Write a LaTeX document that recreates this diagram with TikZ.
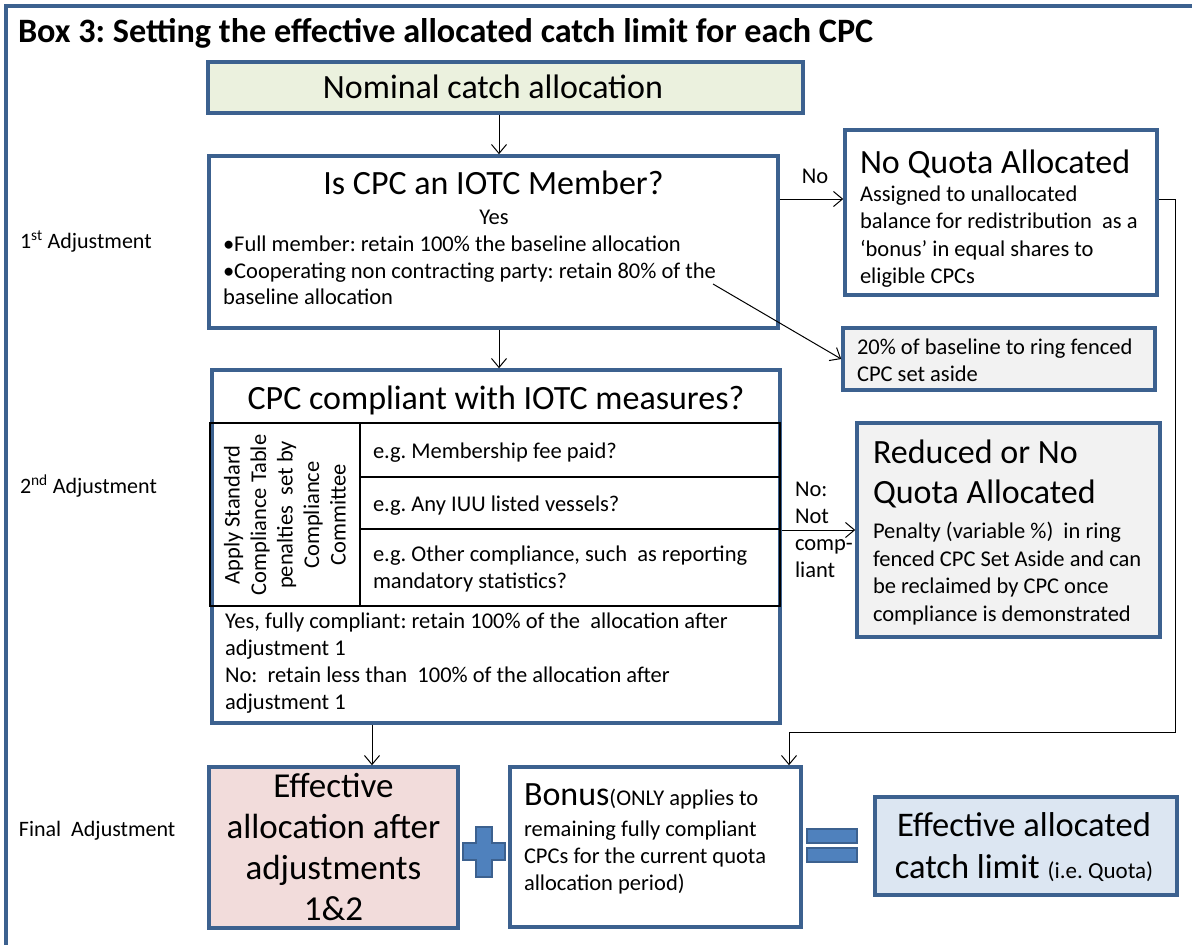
\documentclass[tikz,border=0pt]{standalone}
\usepackage{fontspec}
\setmainfont{Carlito}
\usetikzlibrary{arrows.meta}
\definecolor{boxblue}{RGB}{60,97,143}
\definecolor{nomfill}{HTML}{EBF1DE}
\definecolor{greyfill}{HTML}{F2F2F2}
\definecolor{pinkfill}{HTML}{F2DCDB}
\definecolor{limfill}{HTML}{DCE6F2}
\definecolor{signfill}{HTML}{4F81BD}
\newcommand\fBig{\fontsize{34}{40}\selectfont}
\newcommand\fBody{\fontsize{22.5}{27}\selectfont}
\newcommand\fLab{\fontsize{22}{25}\selectfont}
\frenchspacing
\tikzset{
  bx/.style={draw=boxblue, line width=3.5pt, inner sep=0pt},
  frame/.style={draw=boxblue, line width=4pt},
  arr/.style={draw=black, line width=1pt, -{Straight Barb[length=9pt,width=15pt]}},
  txt/.style={inner sep=0pt, outer sep=0pt, text=black},
  body/.style={txt, font=\fBody, align=left},
  tab/.style={draw=black, line width=1.6pt},
  sign/.style={fill=signfill, draw=boxblue, line width=2.5pt, line join=miter}
}
\begin{document}
\begin{tikzpicture}[x=1pt, y=-1pt]
\useasboundingbox (0,0) rectangle (1192,945);
\fill[white] (0,0) rectangle (1192,945);
\clip (0,0) rectangle (1192,945);
\draw[frame] (6,6) rectangle (1210,960);

% title
\node[txt, font=\bfseries\fontsize{34.2}{40}\selectfont, anchor=base west] (title) at (18,42) {Box 3: Setting the effective allocated catch limit for each CPC};

% side labels
\node[txt, font=\fLab, anchor=base west] (lab1) at (20,248) {1\textsuperscript{st} Adjustment};
\node[txt, font=\fLab, anchor=base west] (lab2) at (20,493) {2\textsuperscript{nd} Adjustment};
\node[txt, font=\fLab, anchor=base west] (lab3) at (19,836) {Final\ \ Adjustment};

% nominal
\node[bx, fill=nomfill, minimum width=595pt, minimum height=51pt] (nom) at (505.5,87.5) {};
\node[txt, font=\fBig, anchor=base] (nomT) at (493,98) {Nominal catch allocation};

% IOTC member
\node[bx, fill=white, minimum width=569pt, minimum height=172pt] (iotc) at (493.5,242) {};
\node[txt, font=\fBig, anchor=base] (iotcT) at (493.5,194) {Is CPC an IOTC Member?};
\node[txt, font=\fBody, anchor=base] (iotcY) at (494,224.5) {Yes};
\node[body, font=\fontsize{22.5}{26.5}\selectfont, anchor=base west] (iotcB) at (223,304.5) {•Full member: retain 100\% the baseline allocation\\•Cooperating non contracting party: retain 80\% of the\\baseline allocation};

% No quota
\node[bx, fill=white, minimum width=312pt, minimum height=165pt] (noq) at (1001,212.5) {};
\node[txt, font=\fBig, anchor=base west] (noqT) at (860,173) {No Quota Allocated};
\node[body, font=\fontsize{22.5}{27.3}\selectfont, anchor=base west] (noqB) at (860,283.5) {Assigned to unallocated\\balance for redistribution\ \ as a\\‘bonus’ in equal shares to\\eligible CPCs};
\node[txt, font=\fBody, anchor=base] (noLab) at (815,183.5) {No};

% 20% box
\node[bx, fill=greyfill, minimum width=312pt, minimum height=62pt] (pct) at (999,359) {};
\node[body, anchor=base west] (pctT) at (857,381.5) {20\% of baseline to ring fenced\\CPC set aside};

% CPC compliant
\node[bx, fill=white, minimum width=568pt, minimum height=353pt] (cpc) at (496,546.5) {};
\node[txt, font=\fBig, anchor=base] (cpcT) at (496,409) {CPC compliant with IOTC measures?};
\draw[tab] (210,423) rectangle (780,606);
\draw[tab] (360,423) -- (360,606);
\draw[tab] (360,477) -- (780,477);
\draw[tab] (360,529) -- (780,529);
\node[txt, font=\fontsize{22.5}{26.5}\selectfont, rotate=90, align=center] (rot) at (285,515) {Apply Standard\\Compliance Table\\penalties\ \ set by\\Compliance\\Committee};
\node[body, anchor=base west] (row1) at (373,458.5) {e.g. Membership fee paid?};
\node[body, anchor=base west] (row2) at (373,511.5) {e.g. Any IUU listed vessels?};
\node[body, anchor=base west] (row3) at (373,588.5) {e.g. Other compliance, such\ \ as reporting\\mandatory statistics?};
\node[body, anchor=base west] (cpcB) at (225,709.5) {Yes, fully compliant: retain 100\% of the\ \ allocation after\\adjustment 1\\No:\ \ retain less than\ \ 100\% of the allocation after\\adjustment 1};
\node[body, anchor=base west] (notLab) at (795,577.5) {No:\\Not\\comp-\\liant};

% Reduced
\node[bx, fill=greyfill, minimum width=303pt, minimum height=214pt] (red) at (1008.5,530) {};
\node[txt, font=\fBig, anchor=base west, align=left] (redT) at (873,503) {Reduced or No\\Quota Allocated};
\node[body, font=\fontsize{22.5}{27.7}\selectfont, anchor=base west] (redB) at (873,621.6) {Penalty (variable \%)\ \ in ring\\fenced CPC Set Aside and can\\be reclaimed by CPC once\\compliance is demonstrated};

% Effective allocation
\node[bx, fill=pinkfill, minimum width=249pt, minimum height=161pt] (eff) at (333.5,847.5) {};
\node[txt, font=\fontsize{35}{41}\selectfont, align=center, anchor=base] (effT) at (333.5,920) {Effective\\allocation after\\adjustments\\1\&2};

% plus
\draw[sign] (476,827) -- (492,827) -- (492,843) -- (505,843) -- (505,860) -- (492,860) -- (492,877) -- (476,877) -- (476,860) -- (463,860) -- (463,843) -- (476,843) -- cycle;

% Bonus
\node[bx, fill=white, minimum width=291pt, minimum height=160pt] (bon) at (655.5,847) {};
\node[body, anchor=base west] (bonT) at (524,890.5) {{\fontsize{34}{34}\selectfont Bonus}(ONLY applies to\\[4.5pt]remaining fully compliant\\CPCs for the current quota\\allocation period)};

% equals
\draw[sign] (807,829) rectangle (857,843);
\draw[sign] (807,848) rectangle (857,862);

% Effective allocated catch limit
\node[bx, fill=limfill, minimum width=302pt, minimum height=98pt] (lim) at (1026,846) {};
\node[txt, font=\fontsize{34.5}{42}\selectfont, align=center, anchor=base] (limT) at (1024,878) {Effective allocated\\catch limit {\fontsize{23}{23}\selectfont (i.e. Quota)}};

% connectors
\coordinate (ax) at (499,0);
\coordinate (bx2) at (372,0);
\coordinate (ny) at (0,199);
\coordinate (cy) at (0,530);
\coordinate (dstart) at (713,284);
\coordinate (r1) at (1175,199);
\coordinate (r2) at (1175,732);
\coordinate (r3) at (789,732);
\draw[arr] (nom.south -| ax) -- (iotc.north -| ax);
\draw[arr] (iotc.east |- ny) -- (noq.west |- ny);
\draw[arr] (dstart) -- (pct.west);
\draw[arr] (iotc.south -| ax) -- (cpc.north -| ax);
\draw[arr] (cpc.east |- cy) -- (red.west |- cy);
\draw[arr] (cpc.south -| bx2) -- (eff.north -| bx2);
\draw[arr] (noq.east |- r1) -- (r1) -- (r2) -- (r3) -- (bon.north -| r3);
\end{tikzpicture}
\end{document}
